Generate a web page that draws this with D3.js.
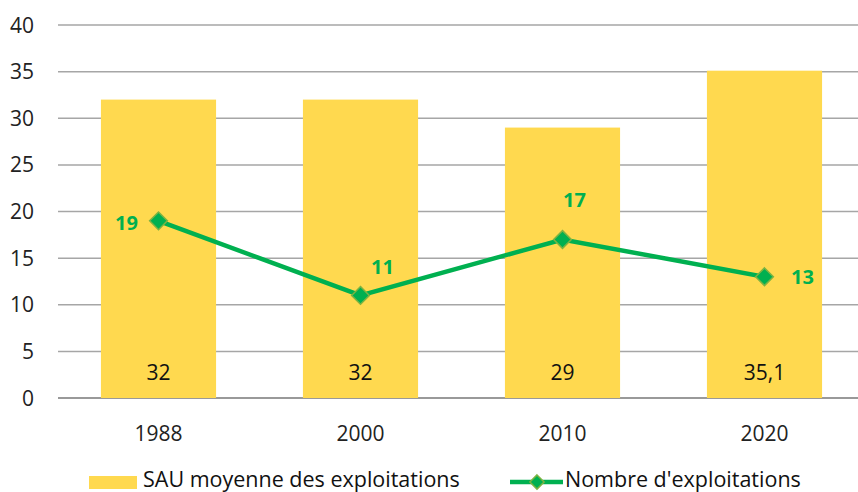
<!DOCTYPE html>
<html>
<head>
<meta charset="utf-8">
<script src="https://cdn.jsdelivr.net/npm/d3@7"></script>
<style>
  body { margin: 0; background: #fff; }
  svg { display: block; font-family: "Open Sans", Lato, sans-serif; }
</style>
</head>
<body>
<div id="chart"></div>
<script>
// data
var years = ['1988', '2000', '2010', '2020'];
var sauMoyenne = [32, 32, 29, 35.1];
var sauLabels = ['32', '32', '29', '35,1'];
var nbExploitations = [19, 11, 17, 13];
var yTicks = [0, 5, 10, 15, 20, 25, 30, 35, 40];
var legendNames = ['SAU moyenne des exploitations', "Nombre d'exploitations"];

var w = 858, h = 492;
var barColor = '#FFD94F';
var lineColor = '#00B050';

var svg = d3.select('#chart').append('svg')
  .attr('width', w)
  .attr('height', h);

var x = d3.scaleBand()
  .domain(years)
  .range([57.5, 865.5])
  .paddingInner(0.43)
  .paddingOuter(0.215);

var y = d3.scaleLinear()
  .domain([0, 40])
  .range([398, 25]);

//Gridlines
svg.append('g')
  .selectAll('line')
  .data(yTicks)
  .enter()
  .append('line')
  .attr('x1', 58)
  .attr('x2', w)
  .attr('y1', function(d) { return y(d); })
  .attr('y2', function(d) { return y(d); })
  .attr('stroke', function(d) { return d === 0 ? '#999' : '#A6A6A6'; })
  .attr('stroke-width', function(d) { return d === 0 ? 2 : 1.5; });

//Y labels
svg.append('g')
  .selectAll('text')
  .data(yTicks)
  .enter()
  .append('text')
  .attr('x', 34)
  .attr('y', function(d) { return y(d); })
  .attr('dy', '0.36em')
  .attr('text-anchor', 'end')
  .attr('font-size', '21px')
  .attr('fill', '#222')
  .text(function(d) { return d; });

//Bars
svg.append('g')
  .selectAll('rect')
  .data(sauMoyenne)
  .enter()
  .append('rect')
  .attr('x', function(d, i) { return x(years[i]); })
  .attr('y', function(d) { return y(d); })
  .attr('width', x.bandwidth())
  .attr('height', function(d) { return y(0) - y(d); })
  .attr('fill', barColor);

//Bar labels
svg.append('g')
  .selectAll('text')
  .data(sauLabels)
  .enter()
  .append('text')
  .attr('x', function(d, i) { return x(years[i]) + x.bandwidth() / 2; })
  .attr('y', 372)
  .attr('dy', '0.36em')
  .attr('text-anchor', 'middle')
  .attr('font-size', '21px')
  .attr('fill', '#111')
  .text(function(d) { return d; });

//X labels
svg.append('g')
  .selectAll('text')
  .data(years)
  .enter()
  .append('text')
  .attr('x', function(d) { return x(d) + x.bandwidth() / 2; })
  .attr('y', 433)
  .attr('dy', '0.36em')
  .attr('text-anchor', 'middle')
  .attr('font-size', '21px')
  .attr('fill', '#222')
  .text(function(d) { return d; });

//Line
var cx = function(d, i) { return x(years[i]) + x.bandwidth() / 2; };
var line = d3.line()
  .x(cx)
  .y(function(d) { return y(d); });

svg.append('path')
  .datum(nbExploitations)
  .attr('d', line)
  .attr('fill', 'none')
  .attr('stroke', lineColor)
  .attr('stroke-width', 4.5);

var diamond = d3.symbol().type(d3.symbolDiamond2).size(200);
svg.append('g')
  .selectAll('path')
  .data(nbExploitations)
  .enter()
  .append('path')
  .attr('d', diamond)
  .attr('transform', function(d, i) { return 'translate(' + cx(d, i) + ',' + y(d) + ')'; })
  .attr('fill', lineColor)
  .attr('stroke', '#7CB342')
  .attr('stroke-width', 1.5);

//Line labels
var labelOffsets = [[-32, 2], [22, -29], [12, -40], [38, 0]];
svg.append('g')
  .selectAll('text')
  .data(nbExploitations)
  .enter()
  .append('text')
  .attr('x', function(d, i) { return cx(d, i) + labelOffsets[i][0]; })
  .attr('y', function(d, i) { return y(d) + labelOffsets[i][1]; })
  .attr('dy', '0.36em')
  .attr('text-anchor', 'middle')
  .attr('font-size', '20px')
  .attr('font-weight', 'bold')
  .attr('fill', lineColor)
  .text(function(d) { return d; });

//Legend
var legend = svg.append('g');
legend.append('rect')
  .attr('x', 89)
  .attr('y', 476)
  .attr('width', 48)
  .attr('height', 13)
  .attr('fill', barColor);
legend.append('text')
  .attr('x', 143)
  .attr('y', 487)
  .attr('font-size', '21.5px')
  .attr('fill', '#111')
  .text(legendNames[0]);
legend.append('line')
  .attr('x1', 510)
  .attr('x2', 563)
  .attr('y1', 482)
  .attr('y2', 482)
  .attr('stroke', lineColor)
  .attr('stroke-width', 4.5);
legend.append('path')
  .attr('d', d3.symbol().type(d3.symbolDiamond2).size(128))
  .attr('transform', 'translate(537,482)')
  .attr('fill', lineColor)
  .attr('stroke', '#7CB342')
  .attr('stroke-width', 1.5);
legend.append('text')
  .attr('x', 565)
  .attr('y', 487)
  .attr('font-size', '21.5px')
  .attr('fill', '#111')
  .text(legendNames[1]);
</script>
</body>
</html>
